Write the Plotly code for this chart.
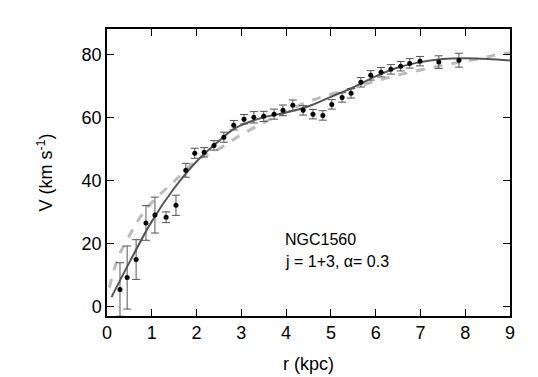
import plotly.graph_objects as go

# observed rotation curve of NGC1560
r_obs = [0.29, 0.45, 0.65, 0.87, 1.07, 1.32, 1.54, 1.76, 1.96, 2.17, 2.39, 2.61,
         2.83, 3.06, 3.28, 3.50, 3.73, 3.93, 4.15, 4.38, 4.60, 4.82, 5.02, 5.25,
         5.45, 5.67, 5.89, 6.12, 6.34, 6.56, 6.76, 6.99, 7.41, 7.86]
v_obs = [5.4, 9.2, 14.9, 26.5, 29.0, 28.3, 32.1, 43.2, 48.6, 48.9, 51.1, 53.7,
         57.5, 59.4, 60.0, 60.3, 61.0, 62.2, 63.8, 62.2, 61.0, 60.6, 64.1, 66.3,
         67.6, 71.1, 73.3, 74.3, 75.2, 76.2, 77.1, 77.8, 77.5, 78.1]
v_err = [8.5, 10.0, 6.3, 5.5, 5.7, 1.7, 3.2, 2.2, 1.6, 1.5, 1.5, 1.6,
         1.5, 1.5, 1.8, 1.6, 1.6, 1.7, 1.7, 1.5, 1.5, 1.5, 1.5, 1.5,
         1.5, 1.5, 1.5, 1.5, 1.5, 1.5, 1.5, 1.5, 2.0, 2.2]

# model curves
r_fit = [0.1, 0.5, 1.0, 1.5, 2.0, 2.5, 2.8, 3.0, 3.5, 4.0, 4.5, 5.0, 5.5,
         6.0, 6.5, 7.0, 7.5, 8.0, 8.5, 9.0]
v_fit = [3.0, 14.0, 27.0, 37.5, 46.0, 52.5, 56.0, 57.5, 60.0, 61.5, 63.5, 66.5, 69.5,
         73.0, 75.8, 77.5, 78.5, 78.7, 78.5, 78.0]
r_alt = [0.05, 0.25, 0.5, 0.75, 1.0, 1.5, 2.0, 2.5, 3.0, 3.5, 4.0, 4.5, 5.0,
         5.5, 6.0, 6.5, 7.0, 7.5, 8.0, 8.5, 9.0]
v_alt = [6.0, 15.5, 22.5, 28.5, 33.0, 39.7, 46.3, 50.0, 54.5, 58.3, 61.8, 65.0, 67.3,
         69.3, 71.5, 73.4, 75.0, 76.5, 77.8, 79.2, 80.5]

x_ticks = list(range(0, 10))
y_ticks = [0, 20, 40, 60, 80]

fig = go.Figure()

fig.add_trace(go.Scatter(
    x=r_alt, y=v_alt, mode="lines", line_shape="spline",
    line=dict(color="#bbbbbb", width=3, dash="dash"),
))
fig.add_trace(go.Scatter(
    x=r_fit, y=v_fit, mode="lines", line_shape="spline",
    line=dict(color="#555555", width=2),
))
fig.add_trace(go.Scatter(
    x=r_obs, y=v_obs, mode="markers",
    marker=dict(color="black", size=5),
    error_y=dict(type="data", array=v_err, color="#555555", thickness=1, width=4),
))

fig.add_annotation(x=3.93, y=21.3, text="NGC1560", showarrow=False,
                   xanchor="left", font=dict(size=16, color="black"))
fig.add_annotation(x=3.93, y=14.3, text="j = 1+3, \u03b1= 0.3", showarrow=False,
                   xanchor="left", font=dict(size=16, color="black"))

axis_style = dict(
    showgrid=False, zeroline=False, showline=True, linecolor="black", linewidth=1.5,
    mirror="ticks", ticks="inside", ticklen=7, tickcolor="black",
    tickfont=dict(size=18, color="black"), automargin=False,
)

# the page body adds an 8px offset, so margins are shifted by that amount
fig.update_layout(
    width=538, height=377,
    margin=dict(l=99, r=36, t=21, b=69),
    paper_bgcolor="white", plot_bgcolor="white",
    showlegend=False,
    font=dict(family="Liberation Sans, Arial, sans-serif", color="black"),
    xaxis=dict(range=[0, 9], tickvals=x_ticks,
               title=dict(text="r (kpc)", font=dict(size=18), standoff=15),
               **axis_style),
    yaxis=dict(range=[-3, 88], tickvals=y_ticks,
               title=dict(text="V (km s<sup>-1</sup>)", font=dict(size=18), standoff=24),
               **axis_style),
)

fig.write_html("out.html")
